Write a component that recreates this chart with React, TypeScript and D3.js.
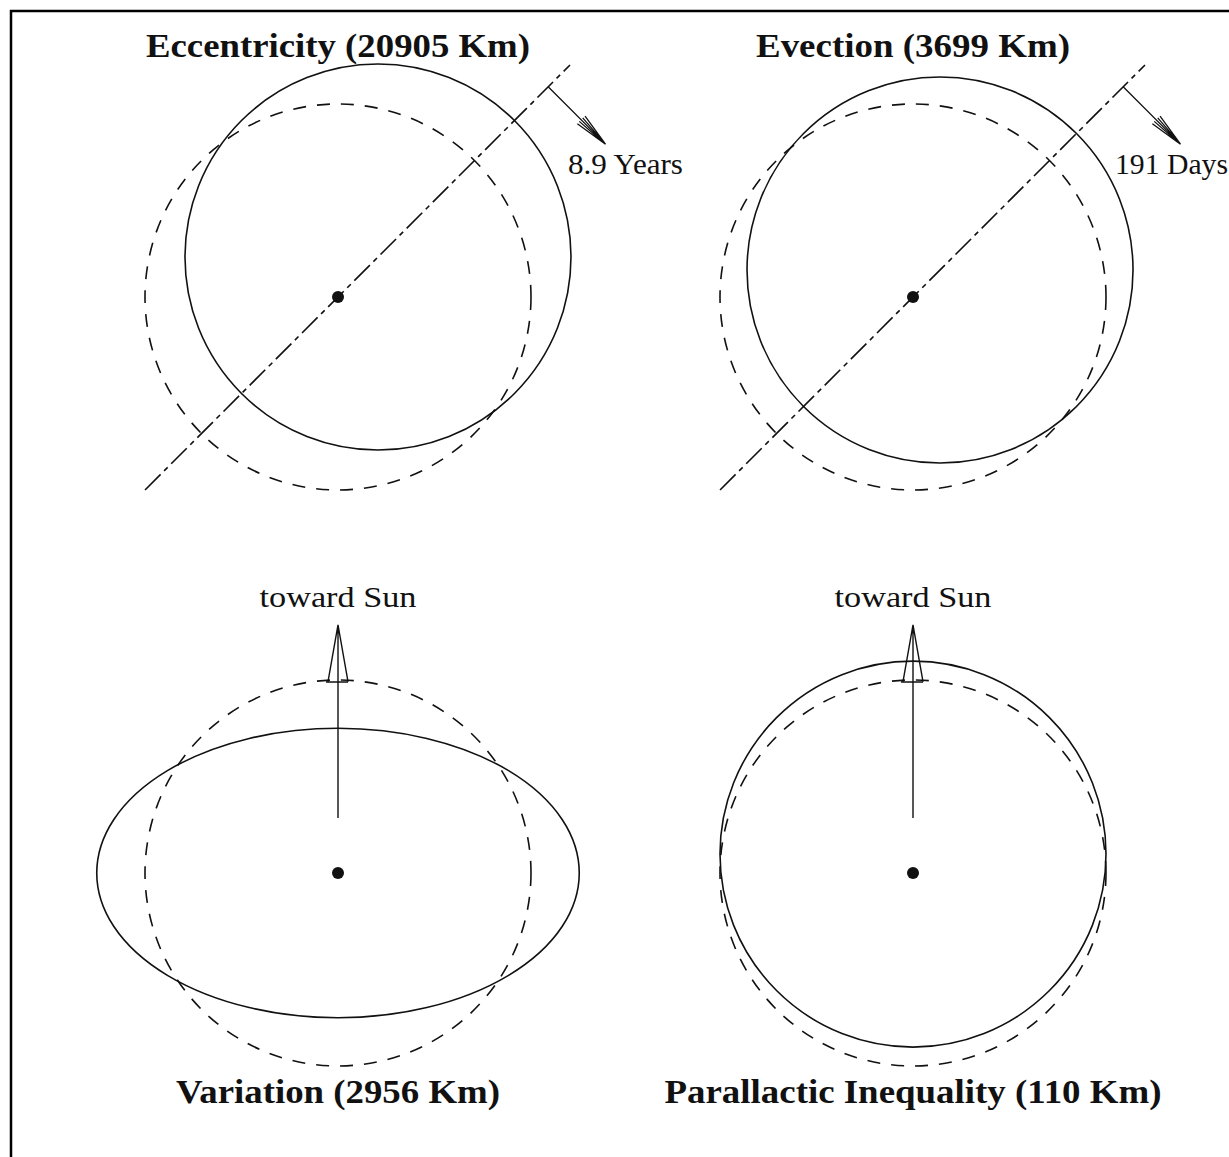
import React from "react";
import * as d3 from "d3";

// ---- data ----
const panelTitles = [
  "Eccentricity (20905 Km)",
  "Evection (3699 Km)",
  "Variation (2956 Km)",
  "Parallactic Inequality (110 Km)",
];
const perturbationKm = [20905, 3699, 2956, 110];
// displacement as drawn (exaggerated), in units of the unperturbed orbit radius
const drawnDisplacement = [0.293, 0.198, 0.25, 0.098];
const panelKinds = ["apsides", "apsides", "ellipse", "shift"];
const periodLabels = ["8.9 Years", "191 Days"];
const sunLabel = "toward Sun";

// ---- layout ----
const W = 1229;
const H = 1157;
const colX = d3.scaleLinear().domain([0, 1]).range([338, 913]);
const rowY = d3.scaleLinear().domain([0, 1]).range([297, 873]);
const rScale = d3.scaleLinear().domain([0, 1]).range([0, 193]);
const titleWidths = [384, 314, 324, 497];
const periodLabelPos = [
  { dx: 230, w: 115 },
  { dx: 202, w: 113 },
];
const INK = "#111";
const SW = 1.6;
const FONT = "'Liberation Serif', 'Times New Roman', serif";

function Panel({ i }: { i: number }) {
  const col = i % 2;
  const row = Math.floor(i / 2);
  const cx = colX(col);
  const cy = rowY(row);
  const R = rScale(1);
  const d = rScale(drawnDisplacement[i]);
  const kind = panelKinds[i];
  const s2 = Math.SQRT1_2;

  const elems: React.ReactNode[] = [];

  // unperturbed orbit (dashed)
  elems.push(
    <circle key="base" cx={cx} cy={cy} r={R} fill="none" stroke={INK}
      strokeWidth={SW} strokeDasharray="13 11" />
  );

  if (kind === "apsides") {
    // perturbed orbit shifted along line of apsides
    elems.push(
      <circle key="pert" cx={cx + d * s2} cy={cy - d * s2} r={R} fill="none"
        stroke={INK} strokeWidth={SW} />
    );
    // line of apsides (dash-dot)
    const t0 = rScale(-1.414);
    const t1 = rScale(1.7);
    const line = d3.line();
    elems.push(
      <path key="axis" d={line([[cx + t0 * s2, cy - t0 * s2], [cx + t1 * s2, cy - t1 * s2]]) || ""}
        fill="none" stroke={INK} strokeWidth={SW} strokeDasharray="22 5 5 5" />
    );
    // rotation arrow
    const tb = rScale(1.54);
    const bx = cx + tb * s2;
    const by = cy - tb * s2;
    const L = rScale(0.42);
    const tx = bx + L * s2;
    const ty = by + L * s2;
    const ang = Math.atan2(ty - by, tx - bx);
    const hl = rScale(0.18);
    const spread = (9 * Math.PI) / 180;
    const barb = (a: number) => [tx - hl * Math.cos(ang + a), ty - hl * Math.sin(ang + a)];
    const b1 = barb(spread);
    const b2 = barb(-spread);
    const b3 = barb(spread * 0.45);
    const b4 = barb(-spread * 0.45);
    elems.push(
      <path key="arrow"
        d={`M${bx},${by}L${tx},${ty}M${b1[0]},${b1[1]}L${tx},${ty}L${b2[0]},${b2[1]}M${b3[0]},${b3[1]}L${tx},${ty}L${b4[0]},${b4[1]}`}
        fill="none" stroke={INK} strokeWidth={1.3} />
    );
    const lp = periodLabelPos[i];
    elems.push(
      <text key="period" x={cx + lp.dx} y={cy - 123} fontFamily={FONT} fontSize={30}
        textLength={lp.w} lengthAdjust="spacingAndGlyphs" fill={INK}>
        {periodLabels[i]}
      </text>
    );
  } else {
    if (kind === "ellipse") {
      elems.push(
        <ellipse key="pert" cx={cx} cy={cy} rx={R + d} ry={R - d} fill="none"
          stroke={INK} strokeWidth={SW} />
      );
    } else {
      elems.push(
        <circle key="pert" cx={cx} cy={cy - d} r={R} fill="none" stroke={INK} strokeWidth={SW} />
      );
    }
    // arrow toward Sun
    const y0 = cy - rScale(0.285);
    const tip = cy - rScale(1.285);
    const base = tip + rScale(0.295);
    const hw = rScale(0.052);
    elems.push(
      <path key="sun"
        d={`M${cx},${y0}L${cx},${tip}M${cx - hw},${base}L${cx},${tip}L${cx + hw},${base}M${cx - hw - 2},${base}L${cx + hw},${base}`}
        fill="none" stroke={INK} strokeWidth={1.4} />
    );
    elems.push(
      <text key="sunlbl" x={cx} y={tip - 18} textAnchor="middle" fontFamily={FONT}
        fontSize={30} textLength={157} lengthAdjust="spacingAndGlyphs" fill={INK}>
        {sunLabel}
      </text>
    );
  }

  // centre (Earth)
  elems.push(<circle key="earth" cx={cx} cy={cy} r={6} fill={INK} />);

  // title
  const titleY = row === 0 ? 57 : 1103;
  elems.push(
    <text key="title" x={cx} y={titleY} textAnchor="middle" fontFamily={FONT}
      fontWeight="bold" fontSize={33} textLength={titleWidths[i]}
      lengthAdjust="spacingAndGlyphs" fill={INK}
      data-km={perturbationKm[i]}>
      {panelTitles[i]}
    </text>
  );

  return <g>{elems}</g>;
}

export default function App() {
  return (
    <svg width={W} height={H} viewBox={`0 0 ${W} ${H}`}
      style={{ position: "absolute", left: 0, top: 0, background: "#fff" }}>
      <rect x={0} y={0} width={W} height={H} fill="#fff" />
      <path d={`M11,${H + 5}V11H${W + 5}`} fill="none" stroke="#000" strokeWidth={2.5} />
      {panelTitles.map((_, i) => (
        <Panel key={i} i={i} />
      ))}
    </svg>
  );
}
